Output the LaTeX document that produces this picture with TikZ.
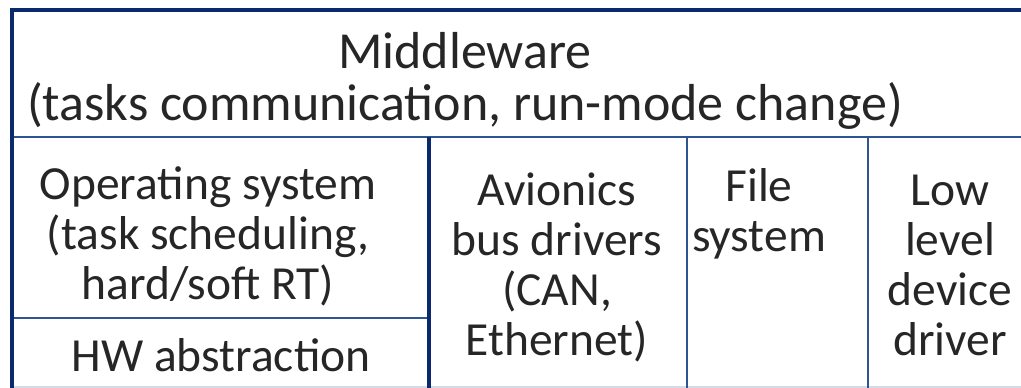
\documentclass[tikz,border=0pt]{standalone}
\usepackage{fontspec}
\setmainfont{Carlito}
\definecolor{frame}{HTML}{0B2A6E}
\definecolor{rule}{HTML}{2F5496}
\definecolor{faint}{HTML}{D3DBE8}
\definecolor{ink}{HTML}{262626}
\begin{document}
\begin{tikzpicture}[x=1pt,y=1pt,
  outer/.style={draw=frame,line width=4.5pt},
  inner/.style={draw=rule,line width=2.6pt},
  celltext/.style={anchor=base,align=center,text=ink,inner sep=0pt,
    font=\fontsize{47.5}{50}\selectfont},
  headtext/.style={anchor=base,align=center,text=ink,inner sep=0pt,
    font=\fontsize{52}{52}\selectfont}]
\useasboundingbox (0,0) rectangle (1021,388);
% cell rules
\draw[faint,line width=1.5pt] (12,1) -- (1021,1);
\draw[inner] (12,251) -- (1021,251);
\draw[inner] (12,70) -- (429,70);
\draw[inner] (687,251) -- (687,0);
\draw[inner] (868,251) -- (868,0);
\draw[outer] (429,251) -- (429,0);
% outer frame
\draw[outer] (12,0) -- (12,378) -- (1021,378);
% texts (anchored at the baseline of the last line)
\node[headtext] (mw) at (465,267) {Middleware\\(tasks communication, run-mode change)};
\node[celltext] (os) at (208,88) {Operating system\\(task scheduling,\\hard/soft RT)};
\node[celltext] (hw) at (221,16) {HW abstraction};
\node[celltext] (bus) at (557,32) {Avionics\\bus drivers\\(CAN,\\Ethernet)};
\node[celltext] (fs) at (759,136) {File\\system};
\node[celltext] (lld) at (950,32) {Low\\level\\device\\driver};
\end{tikzpicture}
\end{document}
